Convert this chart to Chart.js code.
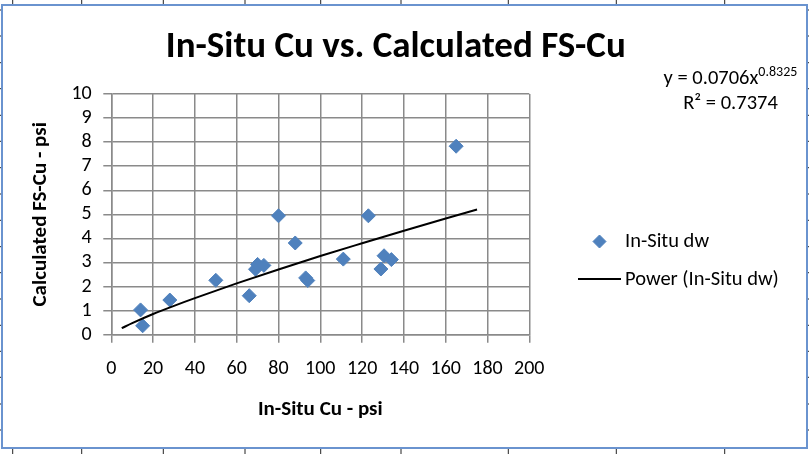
<!DOCTYPE html>
<html>
<head>
<meta charset="utf-8">
<title>In-Situ Cu vs. Calculated FS-Cu</title>
<script src="https://cdn.jsdelivr.net/npm/chart.js@4.4.0/dist/chart.umd.min.js"></script>
<style>
  html, body { margin: 0; padding: 0; background: #fff; }
  #wrap { position: relative; width: 809px; height: 454px; }
</style>
</head>
<body>
<div id="wrap"><canvas id="cuChart" width="809" height="454"></canvas></div>
<script>
const FONT = "Carlito, Calibri, Lato, sans-serif";

// measured points (In-Situ Cu psi, Calculated FS-Cu psi)
const inSituCu = [14, 15, 28, 50, 66, 69, 70, 73, 80, 88, 93, 94, 111, 123, 129, 130.5, 134, 165];
const calcFsCu = [1.03, 0.37, 1.44, 2.26, 1.62, 2.72, 2.92, 2.88, 4.94, 3.81, 2.36, 2.25, 3.14, 4.94, 2.73, 3.28, 3.12, 7.83];

// power trendline
const trendX = [5, 10, 20, 30, 40, 60, 80, 100, 120, 140, 160, 175];
const trendY = [0.27, 0.48, 0.86, 1.20, 1.52, 2.13, 2.71, 3.27, 3.80, 4.32, 4.83, 5.20];

const xTicks = [0, 20, 40, 60, 80, 100, 120, 140, 160, 180, 200];
const yTicks = [0, 1, 2, 3, 4, 5, 6, 7, 8, 9, 10];

const seriesLabel = "In-Situ dw";
const trendLabel = "Power (In-Situ dw)";
const equationMain = "y = 0.0706x";
const equationExp = "0.8325";
const r2Text = "R\u00b2 = 0.7374";

// spreadsheet cell borders peeking around the chart frame
const sheetCols = [12.7, 81.7, 163.3, 245, 320.7, 401, 508.3, 616.3, 724.7];
const sheetRows = [10, 36, 62.7, 88.7, 115.3, 141.3, 167.7, 194, 220.3, 246.7, 272.7, 299, 325.3, 351.3, 377.3, 404, 430];

const BLUE = "#4f81bd";
const GRID = "#8a8a8a";

Chart.defaults.color = "#000";
Chart.defaults.font.family = FONT;

const decor = {
  id: "decor",
  beforeDraw(chart) {
    const ctx = chart.ctx;
    ctx.save();
    ctx.fillStyle = "#fff";
    ctx.fillRect(0, 0, chart.width, chart.height);
    ctx.restore();
  },
  afterDraw(chart) {
    const ctx = chart.ctx;
    ctx.save();

    // frame + sheet grid stubs
    ctx.strokeStyle = "#222";
    ctx.lineWidth = 1;
    ctx.beginPath();
    sheetCols.forEach(x => {
      ctx.moveTo(x, 0); ctx.lineTo(x, 5);
      ctx.moveTo(x, 449); ctx.lineTo(x, 454);
    });
    sheetRows.forEach(y => {
      ctx.moveTo(0, y); ctx.lineTo(1.5, y);
      ctx.moveTo(807.5, y); ctx.lineTo(809, y);
    });
    ctx.stroke();
    ctx.strokeStyle = "#6a93cf";
    ctx.lineWidth = 2;
    ctx.strokeRect(2, 5, 805, 443);

    // trendline equation
    ctx.fillStyle = "#000";
    ctx.textBaseline = "middle";
    ctx.textAlign = "left";
    ctx.font = "20.5px " + FONT;
    const wMain = ctx.measureText(equationMain).width;
    ctx.font = "14px " + FONT;
    const wExp = ctx.measureText(equationExp).width;
    const cx = 730.5;
    const x0 = cx - (wMain + wExp) / 2;
    ctx.font = "20.5px " + FONT;
    ctx.fillText(equationMain, x0, 79);
    ctx.font = "14px " + FONT;
    ctx.fillText(equationExp, x0 + wMain, 72);
    ctx.font = "20.5px " + FONT;
    ctx.textAlign = "center";
    ctx.fillText(r2Text, cx, 104);

    // legend
    const ds0 = chart.data.datasets[0];
    const ds1 = chart.data.datasets[1];
    ctx.fillStyle = ds0.backgroundColor;
    ctx.strokeStyle = ds0.borderColor;
    ctx.lineWidth = 1;
    Chart.helpers.drawPoint(ctx, { pointStyle: ds0.pointStyle, radius: 6.5, borderWidth: 1 }, 599.5, 241.5);
    ctx.strokeStyle = ds1.borderColor;
    ctx.lineWidth = 2;
    ctx.beginPath();
    ctx.moveTo(578, 279); ctx.lineTo(621, 279);
    ctx.stroke();
    ctx.fillStyle = "#000";
    ctx.textAlign = "left";
    ctx.font = "20.5px " + FONT;
    ctx.fillText(ds0.label, 625, 242);
    ctx.fillText(ds1.label, 625, 280);

    ctx.restore();
  }
};

const ctx = document.getElementById("cuChart").getContext("2d");
window.cuChart = new Chart(ctx, {
  type: "scatter",
  data: {
    datasets: [{
      label: seriesLabel,
      data: inSituCu.map((x, i) => ({ x: x, y: calcFsCu[i] })),
      pointStyle: "rectRot",
      pointRadius: 7,
      pointHoverRadius: 7,
      backgroundColor: BLUE,
      borderColor: BLUE,
      borderWidth: 1,
      order: 1
    }, {
      label: trendLabel,
      type: "line",
      data: trendX.map((x, i) => ({ x: x, y: trendY[i] })),
      borderColor: "#000",
      borderWidth: 2,
      pointRadius: 0,
      fill: false,
      cubicInterpolationMode: "monotone",
      order: 0
    }]
  },
  options: {
    responsive: false,
    animation: false,
    devicePixelRatio: 1,
    layout: { padding: { left: 0, right: 17.4, top: 0, bottom: 0 } },
    scales: {
      x: {
        type: "linear",
        min: 0, max: 200,
        afterBuildTicks: s => { s.ticks = xTicks.map(v => ({ value: v })); },
        afterFit: s => { s.height = 119.3; },
        grid: { color: GRID, lineWidth: 1.5, tickLength: 8, tickColor: GRID },
        border: { color: GRID, width: 1.5 },
        ticks: { font: { size: 20 }, padding: 14.6, maxRotation: 0, autoSkip: false },
        title: {
          display: true, text: "In-Situ Cu - psi",
          font: { size: 21, weight: "bold" }, padding: { top: 0, bottom: 31.4 }
        }
      },
      y: {
        type: "linear",
        min: 0, max: 10,
        afterBuildTicks: s => { s.ticks = yTicks.map(v => ({ value: v })); },
        afterFit: s => { s.width = 111.3; },
        grid: { color: GRID, lineWidth: 1.5, tickLength: 8, tickColor: GRID },
        border: { color: GRID, width: 1.5 },
        ticks: { font: { size: 20 }, padding: 11.6, autoSkip: false },
        title: {
          display: true, text: "Calculated FS-Cu - psi",
          font: { size: 21, weight: "bold" }, padding: { top: 27.9, bottom: 0 }
        }
      },
      side: {
        type: "linear",
        position: "right",
        display: true,
        afterFit: s => { s.width = 262.3; },
        grid: { display: false, drawTicks: false },
        border: { display: false },
        ticks: { display: false }
      }
    },
    plugins: {
      legend: { display: false },
      tooltip: { enabled: false },
      title: {
        display: true,
        text: "In-Situ Cu vs. Calculated FS-Cu",
        font: { size: 37, weight: "bold" },
        color: "#000",
        padding: { top: 25.3, bottom: 24.3 }
      }
    }
  },
  plugins: [decor]
});
</script>
</body>
</html>
